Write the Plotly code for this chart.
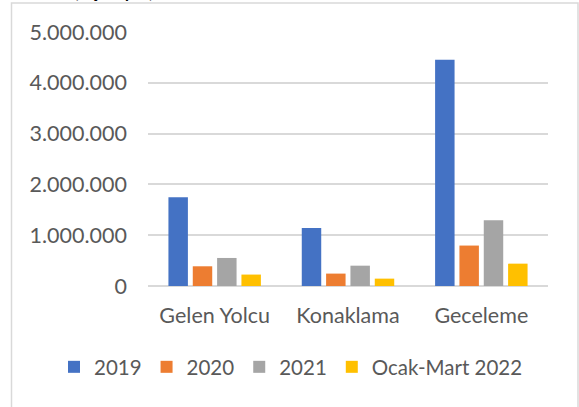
import plotly.graph_objects as go

categories = ["Gelen Yolcu", "Konaklama", "Geceleme"]
series_names = ["2019", "2020", "2021", "Ocak-Mart 2022"]
v2019 = [1745000, 1143000, 4455000]
v2020 = [388000, 244000, 796000]
v2021 = [552000, 400000, 1295000]
v2022 = [225000, 145000, 440000]
colors = ["#4472C4", "#ED7D31", "#A5A5A5", "#FFC000"]
y_ticks = [0, 1000000, 2000000, 3000000, 4000000, 5000000]

FONT = "Lato, 'Open Sans', sans-serif"
GRAY = "#595959"
FS = 21.5

fig = go.Figure()
for name, vals, col in zip(series_names, [v2019, v2020, v2021, v2022], colors):
    fig.add_trace(go.Bar(x=categories, y=vals, name=name,
                         marker=dict(color=col, line=dict(width=0))))

L, R, T, B = 148, 31, 32, 121
W, H = 579, 407
pw, ph = W - L - R, H - T - B

def px_x(p):
    return (p - L) / pw

def px_y(p):
    return (H - B - p) / ph

fig.update_layout(
    width=W, height=H,
    margin=dict(l=L, r=R, t=T, b=B, autoexpand=False),
    paper_bgcolor="white", plot_bgcolor="white",
    separators=",.",
    barmode="group", bargap=0.27, bargroupgap=0.2,
    font=dict(family=FONT, size=FS, color=GRAY),
    showlegend=True,
    legend=dict(orientation="h", x=px_x(54), xanchor="left",
                y=px_y(347), yanchor="top",
                font=dict(size=20.5, color=GRAY), traceorder="normal"),
    xaxis=dict(showgrid=False, showline=False, ticks="", tickfont=dict(size=FS, color=GRAY),
               ticklabelstandoff=14, automargin=False),
    yaxis=dict(range=[0, 5000000], tickvals=y_ticks, tickformat=",d",
               showgrid=True, gridcolor="#d9d9d9", gridwidth=1.5,
               zeroline=True, zerolinecolor="#d9d9d9", zerolinewidth=1.5,
               showline=False, ticks="", ticklabelstandoff=20, automargin=False,
               tickfont=dict(size=FS, color=GRAY)),
)

fig.add_shape(type="rect", xref="paper", yref="paper",
              x0=px_x(11.5), x1=px_x(578), y0=px_y(412), y1=px_y(3),
              line=dict(color="#d9d9d9", width=1.5), fillcolor="rgba(0,0,0,0)")

fig.add_annotation(text="<b>(kişi sayısı)</b>", xref="paper", yref="paper",
                   x=px_x(72), y=px_y(4), xanchor="left", yanchor="bottom",
                   showarrow=False, font=dict(family=FONT, size=17, color="#000000"))

fig.write_html("out.html", config={"displayModeBar": False},
               post_script="document.body.style.margin='0';")
